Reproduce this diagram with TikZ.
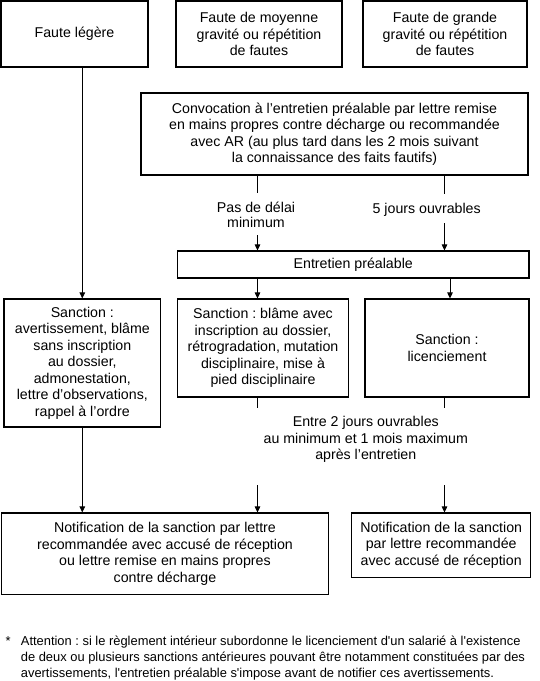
\documentclass[tikz,border=0pt]{standalone}
\usepackage{fontspec}
\setmainfont{Liberation Sans}
\frenchspacing
\usetikzlibrary{arrows.meta}
\tikzset{
  boxnode/.style={draw=black, line width=1.1pt, inner sep=0pt, align=center,
    font={\fontsize{14.2}{16.5}\selectfont\frenchspacing}},
  lbl/.style={inner sep=0pt, align=center, font={\fontsize{14.2}{16.3}\selectfont\frenchspacing}},
  fnote/.style={inner sep=0pt, anchor=base west, font={\fontsize{12.9}{16}\selectfont\frenchspacing}},
  conn/.style={line width=0.9pt, draw=black},
  arr/.style={conn, -{Triangle[length=6pt,width=5.5pt]}},
}
\begin{document}
\begin{tikzpicture}[x=1pt,y=-1pt]
\useasboundingbox (0,0) rectangle (540,681);
% top row
\node[boxnode, minimum width=147pt, minimum height=66pt] (f1) at (74.5,34) {Faute légère};
\node[boxnode, minimum width=166pt, minimum height=66pt] (f2) at (259,34) {Faute de moyenne\\gravité ou répétition\\de fautes};
\node[boxnode, minimum width=164pt, minimum height=66pt] (f3) at (445,34) {Faute de grande\\gravité ou répétition\\de fautes};
% convocation
\node[boxnode, minimum width=387pt, minimum height=82pt] (conv) at (334.5,134) {Convocation à l’entretien préalable par lettre remise\\en mains propres contre décharge ou recommandée\\avec AR (au plus tard dans les 2 mois suivant\\la connaissance des faits fautifs)};
% labels (base anchor = baseline of the last line)
\node[lbl, anchor=base, font={\fontsize{14.2}{15}\selectfont}] (d1) at (256,227.3) {Pas de délai\\minimum};
\node[lbl, anchor=base] (d2) at (426.7,213) {5 jours ouvrables};
% entretien
\node[boxnode, minimum width=351.5pt, minimum height=27pt] (ent) at (353.25,264.5) {Entretien préalable};
% sanctions
\node[boxnode, minimum width=156.7pt, minimum height=128pt] (sl) at (82.35,363) {Sanction :\\avertissement, blâme\\sans inscription\\au dossier,\\admonestation,\\lettre d’observations,\\rappel à l’ordre};
\node[boxnode, minimum width=171pt, minimum height=98pt] (sm) at (263,348) {Sanction : blâme avec\\inscription au dossier,\\rétrogradation, mutation\\disciplinaire, mise à\\pied disciplinaire};
\node[boxnode, minimum width=164pt, minimum height=98pt] (sr) at (447,348) {Sanction :\\licenciement};
% label between
\node[lbl, anchor=base] (d3) at (365.8,459.3) {Entre 2 jours ouvrables\\au minimum et 1 mois maximum\\après l’entretien};
% notifications
\node[boxnode, minimum width=326.6pt, minimum height=81.3pt] (nl) at (165,553.65) {Notification de la sanction par lettre\\recommandée avec accusé de réception\\ou lettre remise en mains propres\\contre décharge};
\node[boxnode, minimum width=179pt, minimum height=64.3pt] (nr) at (441.2,545.15) {Notification de la sanction\\par lettre recommandée\\avec accusé de réception};
% footnote
\node[fnote] (star) at (5.3,645.5) {*};
\node[fnote, align=left] (fn) at (20.7,677.5) {Attention : si le règlement intérieur subordonne le licenciement d\textquotesingle un salarié à l\textquotesingle existence\\de deux ou plusieurs sanctions antérieures pouvant être notamment constituées par des\\avertissements, l\textquotesingle entretien préalable s\textquotesingle impose avant de notifier ces avertissements.};
% column coordinates
\coordinate (cL) at (82.3,0);
\coordinate (cM) at (257.5,0);
\coordinate (cR2) at (450,0);
\coordinate (g1a) at (257.5,193);
\coordinate (g1b) at (257.5,235);
\coordinate (g2a) at (444.5,194);
\coordinate (g2b) at (444.5,223);
\coordinate (g3a) at (257.5,408);
\coordinate (g3b) at (257.5,485);
\coordinate (g4a) at (444.5,408);
\coordinate (g4b) at (444.5,485);
% connectors
\draw[arr] (f1.south -| cL) -- (sl.north -| cL);
\draw[arr] (sl.south -| cL) -- (nl.north -| cL);
\draw[conn] (conv.south -| g1a) -- (g1a);
\draw[arr] (g1b) -- (ent.north -| g1b);
\draw[conn] (conv.south -| g2a) -- (g2a);
\draw[arr] (g2b) -- (ent.north -| g2b);
\draw[arr] (ent.south -| cM) -- (sm.north -| cM);
\draw[arr] (ent.south -| cR2) -- (sr.north -| cR2);
\draw[conn] (sm.south -| g3a) -- (g3a);
\draw[arr] (g3b) -- (nl.north -| g3b);
\draw[conn] (sr.south -| g4a) -- (g4a);
\draw[arr] (g4b) -- (nr.north -| g4b);
\end{tikzpicture}
\end{document}
